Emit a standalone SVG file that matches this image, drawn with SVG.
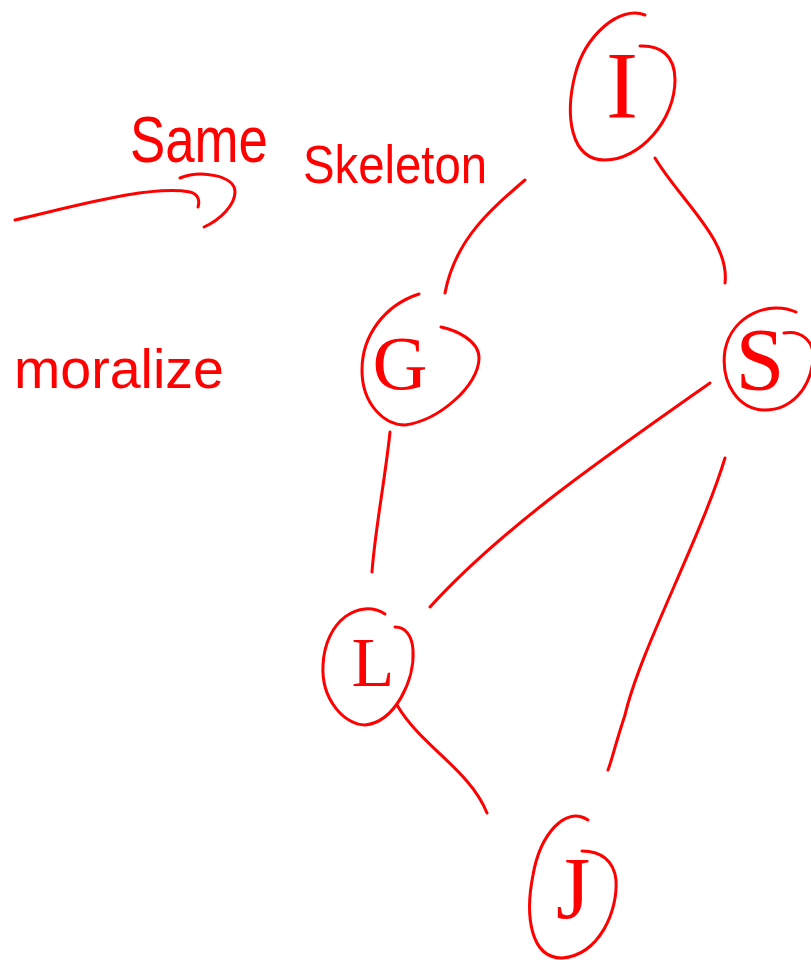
<svg xmlns="http://www.w3.org/2000/svg" width="811" height="960" viewBox="0 0 811 960">
  <style>
    .ink { fill: none; stroke: #ff0000; stroke-width: 3; stroke-linecap: round; stroke-linejoin: round; }
    .note { fill: #ff0000; font-family: "Liberation Sans", "DejaVu Sans", sans-serif; font-weight: 300; }
    .lbl { fill: #ff0000; font-family: "Liberation Serif", "DejaVu Serif", serif; font-weight: 300; text-anchor: middle; }
  </style>
  <rect width="811" height="960" fill="#ffffff"/>

  <!-- annotations -->
  <g id="notes">
    <text class="note" x="130" y="162" font-size="64" textLength="138" lengthAdjust="spacingAndGlyphs">Same</text>
    <text class="note" x="303" y="183" font-size="54" textLength="184" lengthAdjust="spacingAndGlyphs">Skeleton</text>
    <text class="note" x="14" y="388" font-size="56" textLength="210" lengthAdjust="spacingAndGlyphs">moralize</text>
    <path class="ink" d="M 15,220 C 80,205 150,185 190,192 C 198,194 200,200 198,207"/>
    <path class="ink" d="M 180,178 C 200,170 235,175 235,192 C 235,205 220,220 204,227"/>
  </g>

  <!-- connectors -->
  <g id="edges">
    <path class="ink" d="M 525,180 C 490,210 455,240 445,293"/>
    <path class="ink" d="M 655,158 C 680,200 730,240 725,283"/>
    <path class="ink" d="M 390,432 C 385,480 375,530 372,572"/>
    <path class="ink" d="M 430,607 C 500,530 600,460 710,383"/>
    <path class="ink" d="M 725,458 C 700,540 640,650 625,715 C 615,745 612,760 608,770"/>
    <path class="ink" d="M 397,705 C 420,745 470,770 487,813"/>
  </g>

  <!-- nodes -->
  <g id="node-I">
    <path class="ink" d="M 645,15 C 620,5 585,35 575,75 C 565,115 570,160 605,160 C 640,160 675,120 675,80 C 675,55 660,45 640,46"/>
    <text class="lbl" x="622" y="118" font-size="96">I</text>
  </g>
  <g id="node-G">
    <path class="ink" d="M 419,294 C 385,305 362,335 362,370 C 362,405 385,425 405,425 C 440,420 479,385 479,358 C 479,340 455,330 441,327"/>
    <text class="lbl" x="400" y="389" font-size="76">G</text>
  </g>
  <g id="node-S1">
    <path class="ink" d="M 784,333 C 800,330 815,340 813,360 C 810,390 790,410 765,410 C 740,410 720,385 725,350 C 732,315 770,300 796,312"/>
    <text class="lbl" x="760" y="389" font-size="88">S</text>
  </g>
  <g id="node-L">
    <path class="ink" d="M 385,614 C 360,598 325,620 323,665 C 321,700 345,725 365,725 C 395,722 415,680 413,650 C 412,635 405,627 395,627"/>
    <text class="lbl" x="373" y="686" font-size="70">L</text>
  </g>
  <g id="node-J">
    <path class="ink" d="M 588,820 C 565,805 540,835 533,875 C 525,915 530,958 562,958 C 600,955 618,910 616,880 C 614,860 600,851 582,851"/>
    <text class="lbl" x="573" y="918" font-size="88">J</text>
  </g>
</svg>
